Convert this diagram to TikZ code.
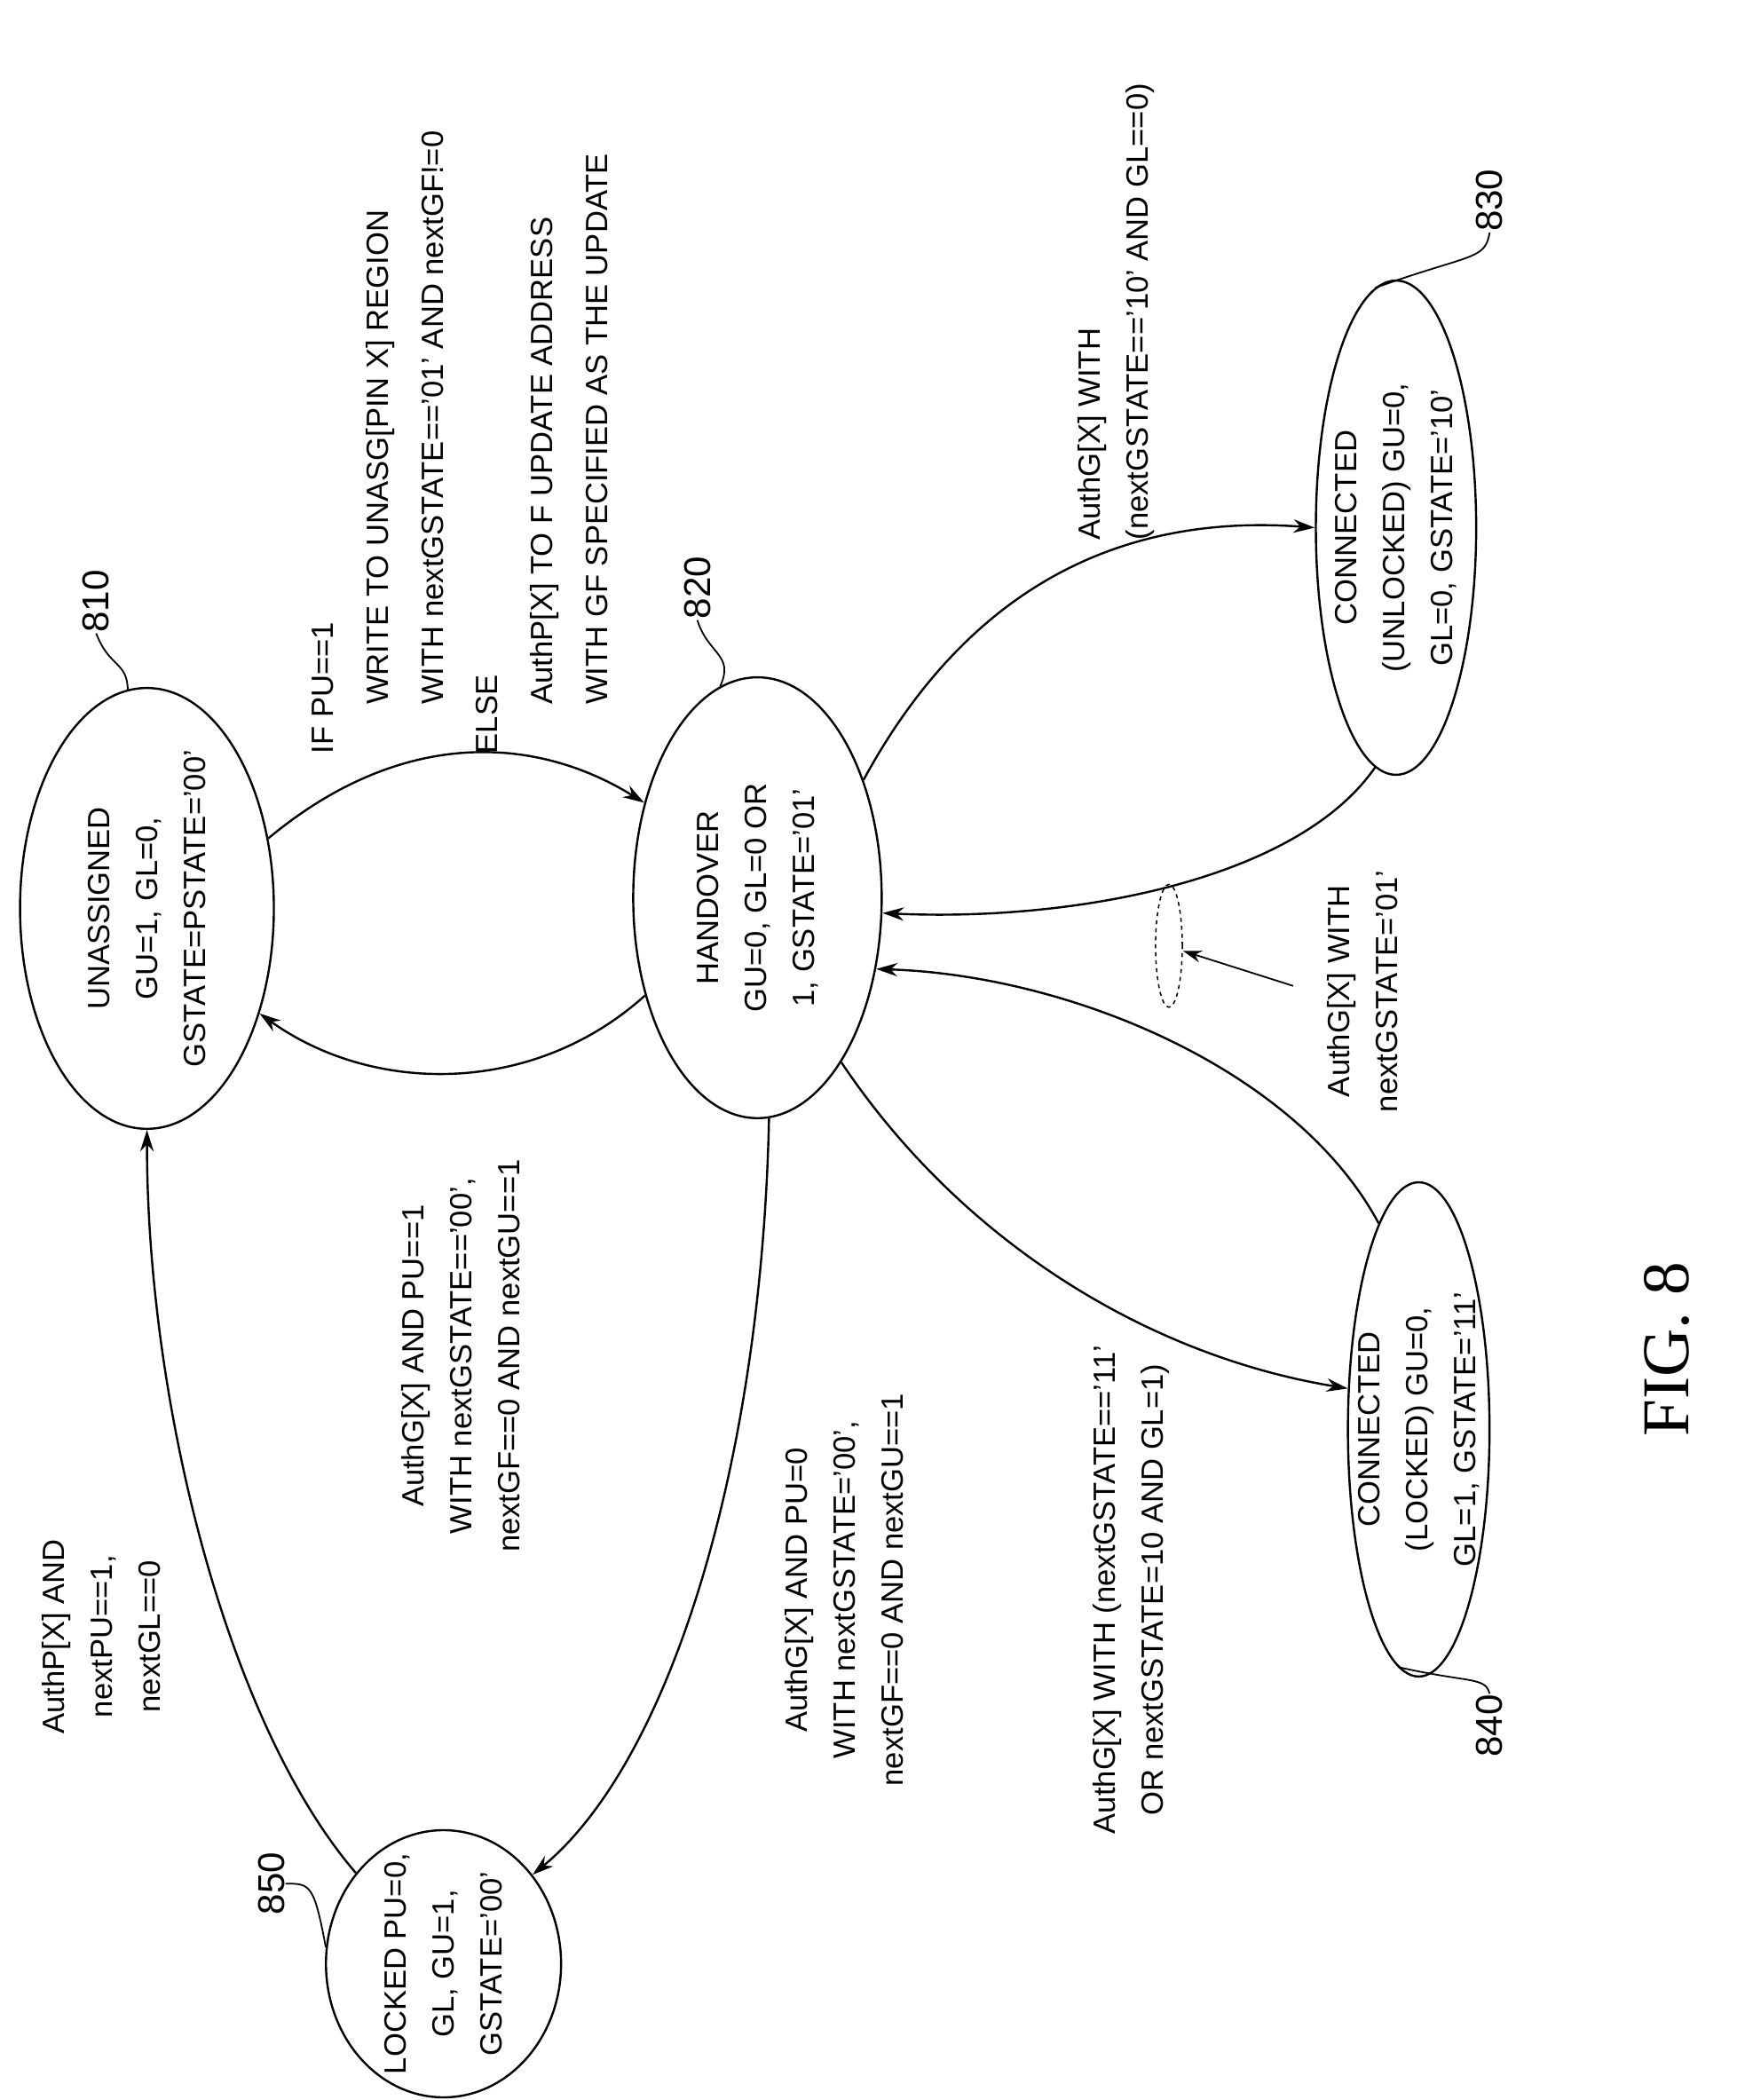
\documentclass[tikz,border=0pt]{standalone}
\usepackage{fontspec}
\setmainfont{Liberation Sans}
\newfontfamily\figfont{Liberation Serif}
\usetikzlibrary{shapes.geometric,arrows.meta}
\begin{document}
\begin{tikzpicture}[x=1pt,y=-1pt,line width=1.6pt,
 st/.style={draw,ellipse,inner sep=0pt},
 tx/.style={rotate=90,font=\fontsize{23}{36}\selectfont,align=center,inner sep=0pt},
 num/.style={rotate=90,font=\fontsize{28}{30}\selectfont,inner sep=0pt},
 ar/.style={-{Stealth[length=16pt,width=10pt]}},
 ld/.style={line width=1.2pt}]
\useasboundingbox (0,0) rectangle (1300,1572);
% states
\node[st,minimum width=190pt,minimum height=330pt] (n810) at (110,680) {};
\node[st,minimum width=186pt,minimum height=330pt] (n820) at (567,672) {};
\node[st,minimum width=120pt,minimum height=370pt] (n830) at (1045,395) {};
\node[st,minimum width=106pt,minimum height=370pt] (n840) at (1062,1070) {};
\node[st,minimum width=176pt,minimum height=200pt] (n850) at (332,1470) {};
\node[tx] (t810) at (n810) {UNASSIGNED\\GU=1, GL=0,\\GSTATE=PSTATE='00'};
\node[tx] (t820) at (n820) {HANDOVER\\GU=0, GL=0 OR\\1, GSTATE='01'};
\node[tx] (t830) at (n830) {CONNECTED\\(UNLOCKED) GU=0,\\GL=0, GSTATE='10'};
\node[tx] (t840) at (n840) {CONNECTED\\(LOCKED) GU=0,\\GL=1, GSTATE='11'};
\node[tx] (t850) at (n850) {LOCKED PU=0,\\GL, GU=1,\\GSTATE='00'};
% reference numbers
\node[num] (l810) at (72,450) {810};
\node[num] (l820) at (522,440) {820};
\node[num] (l830) at (1115,150) {830};
\node[num] (l840) at (1115,1292) {840};
\node[num] (l850) at (203,1410) {850};
\draw[ld] (n810.95) .. controls (95,495) and (82,500) .. (l810.west);
\draw[ld] (n820.100) .. controls (550,490) and (530,490) .. (l820.west);
\draw[ld] (n830.95) .. controls (1100,190) and (1112,195) .. (l830.west);
\draw[ld] (n840.-95) .. controls (1100,1260) and (1112,1255) .. (l840.east);
\draw[ld] (n850.172) .. controls (235,1410) and (232,1410) .. (l850.south);
% transitions
\draw[ar] (n810.30) .. controls (300,545) and (400,550) .. (n820.140);
\draw[ar] (n820.221) .. controls (400,820) and (280,820) .. (n810.-43);
\draw[ar] (n820.48) .. controls (730,430) and (850,385) .. (n830.180);
\draw[ar] (n830.-95) .. controls (970,660) and (800,690) .. (n820.-7);
\draw[ar] (n840.101) .. controls (970,800) and (800,730) .. (n820.-31);
\draw[ar] (n820.-63) .. controls (720,930) and (860,1015) .. (n840.150);
\draw[ar] (n820.-87) .. controls (570,1100) and (500,1320) .. (n850.45);
\draw[ar] (n850.134) .. controls (170,1290) and (110,1050) .. (n810.-90);
% dashed grouping
\node[draw,ellipse,dashed,line width=1pt,minimum width=20pt,minimum height=92pt,inner sep=0pt] (de) at (875,708) {};
\coordinate (ann) at (968,738);
\draw[-{Stealth[length=14pt,width=9pt]},line width=1.2pt] (ann) -- (de.-20);
% transition labels
\node[tx,font=\fontsize{23}{41}\selectfont,align=left,anchor=north west] (e1) at (233,565) {IF PU==1\\\hspace*{1.6em}WRITE TO UNASG[PIN X] REGION\\\hspace*{1.6em}WITH nextGSTATE=='01' AND nextGF!=0\\ELSE\\\hspace*{1.6em}AuthP[X] TO F UPDATE ADDRESS\\\hspace*{1.6em}WITH GF SPECIFIED AS THE UPDATE};
\node[tx,align=left,anchor=north west] (e3) at (806,405) {AuthG[X] WITH\\(nextGSTATE=='10' AND GL==0)};
\node[tx] (e5) at (1020,742) {AuthG[X] WITH\\nextGSTATE='01'};
\node[tx] (e2) at (345,1015) {AuthG[X] AND PU==1\\WITH nextGSTATE=='00',\\nextGF==0 AND nextGU==1};
\node[tx] (e8) at (76,1225) {AuthP[X] AND\\nextPU==1,\\nextGL==0};
\node[tx] (e7) at (632,1190) {AuthG[X] AND PU=0\\WITH nextGSTATE='00',\\nextGF==0 AND nextGU==1};
\node[tx] (e6) at (847,1190) {AuthG[X] WITH (nextGSTATE=='11'\\OR nextGSTATE=10 AND GL=1)};
\node[rotate=90,font=\figfont\fontsize{50}{52}\selectfont] (fig) at (1248,1010) {FIG. 8};
\end{tikzpicture}
\end{document}
